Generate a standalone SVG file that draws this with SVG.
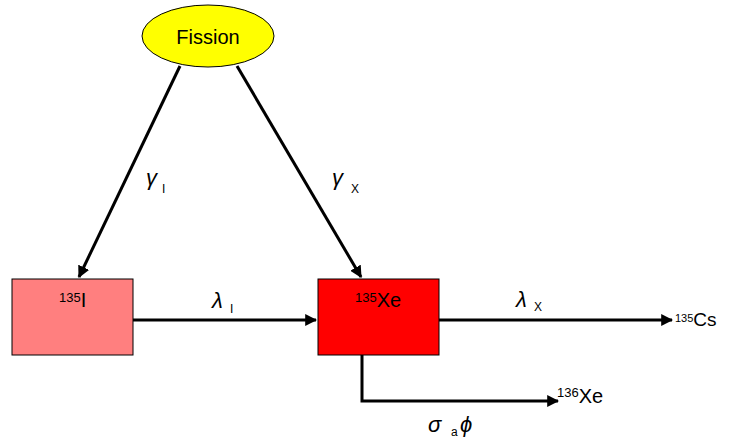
<svg xmlns="http://www.w3.org/2000/svg" width="729" height="439" viewBox="0 0 729 439">
<style>
.lbl{font-family:"Liberation Sans",Arial,sans-serif;fill:#000}
.gr{font-family:"Liberation Sans",Arial,sans-serif;font-style:italic;font-size:22px;fill:#000}
.sub{font-family:"Liberation Sans",Arial,sans-serif;font-size:12px;fill:#000}
.edge{stroke:#000;stroke-width:3;fill:none}
.box{stroke:#000;stroke-width:1}
</style>
<defs>
<marker id="ah" viewBox="0 0 10 10" refX="9" refY="5" markerWidth="4" markerHeight="4" markerUnits="strokeWidth" orient="auto">
<path d="M0,0 L10,5 L0,10 Z" fill="#000"/>
</marker>
</defs>
<g id="connectors">
<line class="edge" x1="180" y1="66" x2="79" y2="277" marker-end="url(#ah)"/>
<line class="edge" x1="237" y1="66" x2="361" y2="277" marker-end="url(#ah)"/>
<line class="edge" x1="133" y1="320" x2="316" y2="320" marker-end="url(#ah)"/>
<line class="edge" x1="439" y1="320" x2="672" y2="320" marker-end="url(#ah)"/>
<polyline class="edge" points="362,355 362,401 558,401" marker-end="url(#ah)"/>
</g>
<g id="fission">
<ellipse cx="208" cy="36" rx="66" ry="31" fill="#ffff00" stroke="#000" stroke-width="1"/>
<text class="lbl" x="208" y="44" font-size="20" text-anchor="middle">Fission</text>
</g>
<g id="i135">
<rect class="box" x="12" y="279" width="121" height="76" fill="#ff7f7f"/>
<text class="lbl" x="59" y="302" font-size="13">135<tspan font-size="20" dy="5">I</tspan></text>
</g>
<g id="xe135">
<rect class="box" x="318" y="279" width="121" height="76" fill="#ff0000"/>
<text class="lbl" x="355" y="302" font-size="13">135<tspan font-size="20" dy="5">Xe</tspan></text>
</g>
<g id="cs135">
<text class="lbl" x="675" y="322" font-size="11">135<tspan font-size="19" dy="4">Cs</tspan></text>
</g>
<g id="xe136">
<text class="lbl" x="557" y="397" font-size="13">136<tspan font-size="20" dy="6">Xe</tspan></text>
</g>
<g id="labels">
<text class="gr" x="146" y="185">γ</text><text class="sub" x="162" y="193" font-size="11">I</text>
<text class="gr" x="332" y="185">γ</text><text class="sub" x="351" y="193">X</text>
<text class="gr" x="212" y="308">λ</text><text class="sub" x="230" y="313" font-size="11">I</text>
<text class="gr" x="516" y="307">λ</text><text class="sub" x="534" y="311">X</text>
<text class="gr" x="428" y="432">σ</text><text class="sub" x="451" y="436" font-size="10">a</text><text class="gr" x="460" y="432" font-size="24">ϕ</text>
</g>
</svg>
